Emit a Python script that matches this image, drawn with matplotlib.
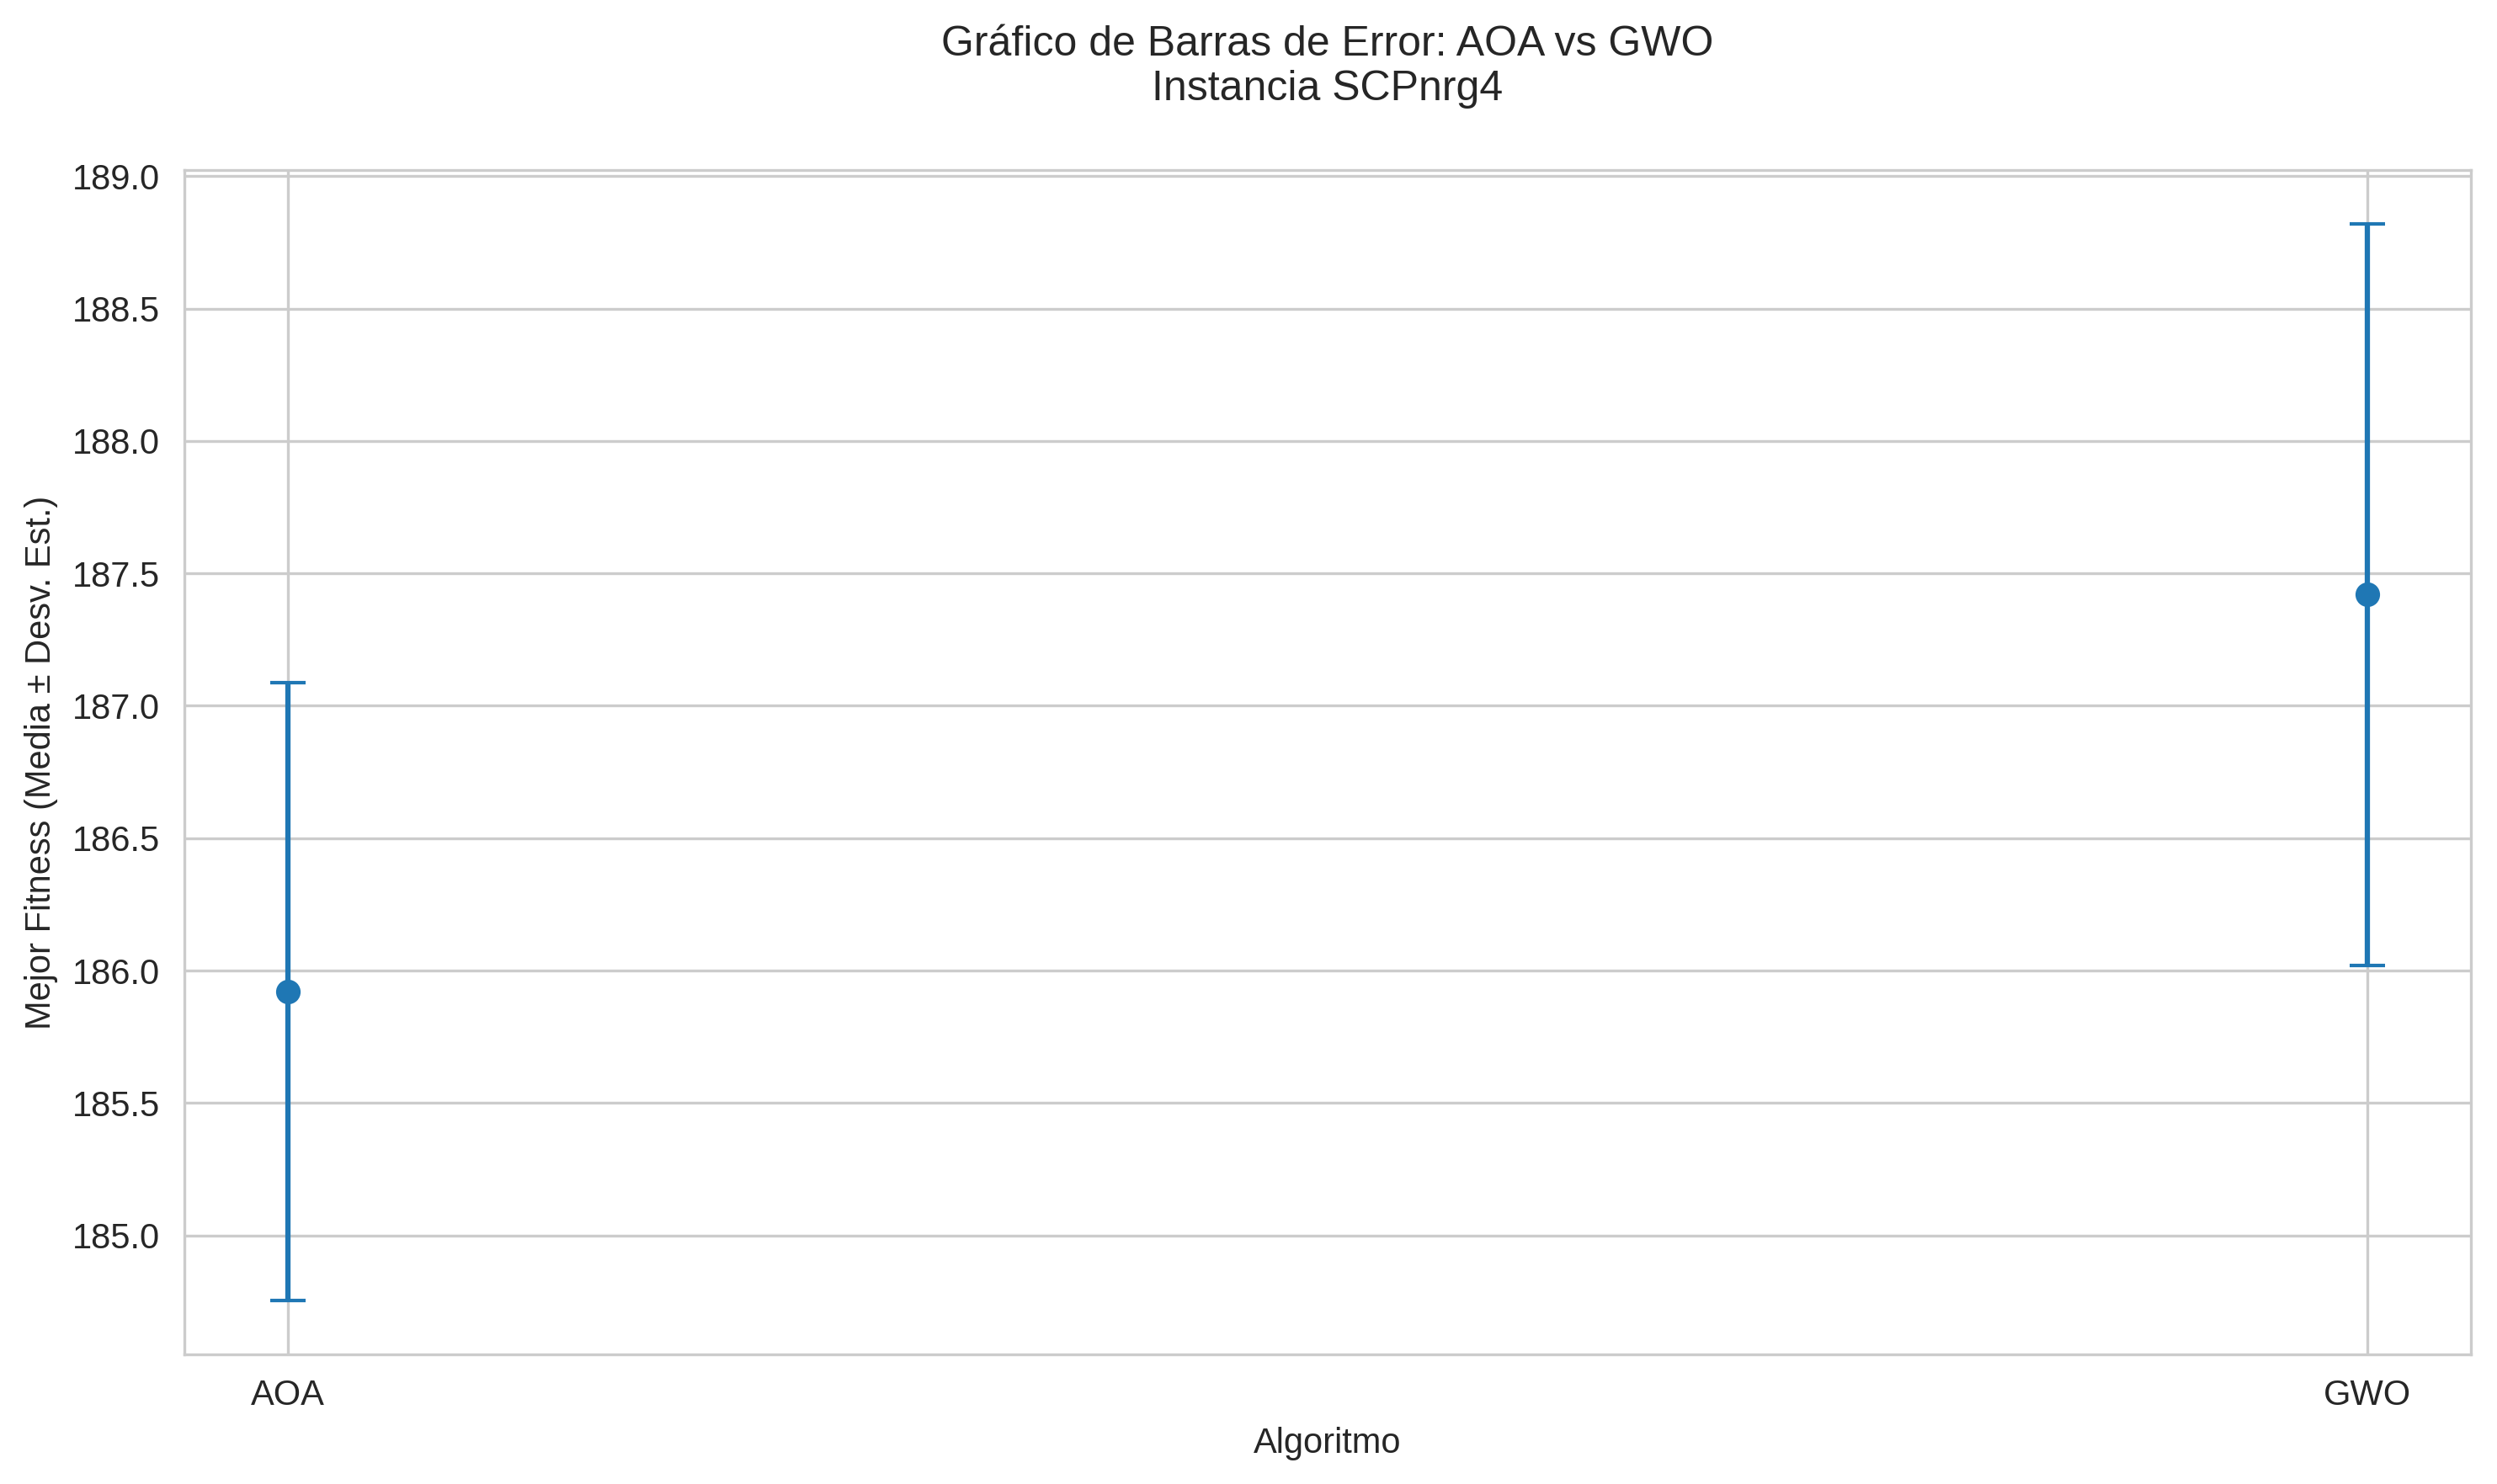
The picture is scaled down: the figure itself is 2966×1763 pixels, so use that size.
import matplotlib
matplotlib.use("Agg")
import matplotlib.pyplot as plt
import seaborn as sns

# Datos
algoritmos = ["AOA", "GWO"]
medias = [185.92, 187.42]
desviaciones = [1.166, 1.40]

sns.set_style("whitegrid")
plt.rcParams['font.family'] = ['Liberation Sans', 'DejaVu Sans']

fig = plt.figure(figsize=(2966 / 300, 1763 / 300), dpi=300)
ax = fig.add_axes([0.0738, 0.0874, 0.9158, 0.798])

ax.errorbar(algoritmos, medias, yerr=desviaciones, fmt='o', capsize=5, color='#1f77b4')

ax.set_title('Gráfico de Barras de Error: AOA vs GWO\nInstancia SCPnrg4', pad=20)
ax.set_xlabel('Algoritmo')
ax.set_ylabel('Mejor Fitness (Media ± Desv. Est.)')

fig.savefig("out.png", dpi=300)
